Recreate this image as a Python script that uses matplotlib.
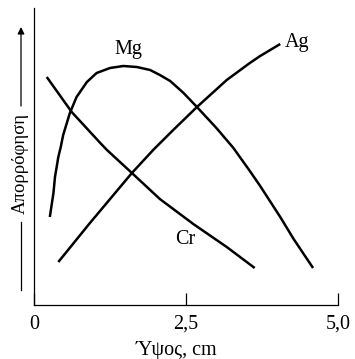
import matplotlib
matplotlib.use("Agg")
import matplotlib.pyplot as plt

# curves (height in cm, absorption in arbitrary units)
mg_x = [0.26, 0.32, 0.345, 0.37, 0.40, 0.44, 0.48, 0.59, 0.70, 0.87, 1.03, 1.25,
        1.47, 1.69, 1.91, 2.07, 2.24, 2.46, 2.68, 3.00, 3.28, 3.55, 3.72, 4.05,
        4.27, 4.59]
mg_y = [88, 112, 128, 137, 148, 158, 170, 192, 208, 223, 232, 237,
        239, 238, 235, 230, 224, 212, 198, 177, 157, 134, 119, 88,
        66, 37]

cr_x = [0.21, 0.62, 1.09, 1.20, 1.61, 2.07, 2.62, 3.17, 3.63]
cr_y = [228, 193, 162, 155, 132, 106, 81, 58, 37]

ag_x = [0.40, 0.92, 1.61, 1.96, 2.29, 2.68, 3.17, 3.55, 3.72, 4.05]
ag_y = [43, 82, 132, 155, 175, 198, 225, 242, 249, 261]

x_ticks = [0, 2.5, 5.0]
x_tick_labels = ["0", "2,5", "5,0"]

plt.rcParams['font.family'] = ['Liberation Serif', 'DejaVu Serif']

fig = plt.figure(figsize=(3.55, 3.59), dpi=100)
ax = fig.add_axes([34 / 355, 54 / 359, 304 / 355, 297 / 359])

for xs, ys in [(mg_x, mg_y), (cr_x, cr_y), (ag_x, ag_y)]:
    ax.plot(xs, ys, color='black', lw=1.8, solid_capstyle='butt',
            solid_joinstyle='round')

ax.text(1.56, 255, "Mg", fontsize=14.5, ha='center', va='center')
ax.text(4.33, 262, "Ag", fontsize=14.5, ha='center', va='center')
ax.text(2.48, 65, "Cr", fontsize=14.5, ha='center', va='center')

ax.set_xlim(0, 5.0)
ax.set_ylim(0, 297)
ax.spines['top'].set_visible(False)
ax.spines['right'].set_visible(False)
ax.spines['left'].set_linewidth(0.9)
ax.spines['bottom'].set_linewidth(0.9)
ax.set_yticks([])
ax.set_xticks(x_ticks)
ax.set_xticklabels(x_tick_labels, fontsize=14.5)
ax.tick_params(axis='x', direction='in', length=9, width=0.9, pad=7)

fig.text(176.5 / 355, 1 - 350 / 359, "Ύψος, cm", fontsize=14.5,
         ha='center', va='center')

# y label with an arrow running through it
fig.text(20 / 355, 1 - 164 / 359, "Απορρόφηση", rotation=90, fontsize=13.5,
         ha='center', va='center')
fig.add_artist(plt.Line2D([21 / 355, 21 / 355], [1 - 290 / 359, 1 - 222 / 359],
                          color='black', lw=0.9))
ax.annotate("", xy=(21 / 355, 1 - 27 / 359), xytext=(21 / 355, 1 - 106 / 359),
            xycoords='figure fraction', textcoords='figure fraction',
            arrowprops=dict(arrowstyle='-|>', color='black', lw=0.9,
                            mutation_scale=10, shrinkA=0, shrinkB=0))

fig.savefig("out.png", dpi=100)
